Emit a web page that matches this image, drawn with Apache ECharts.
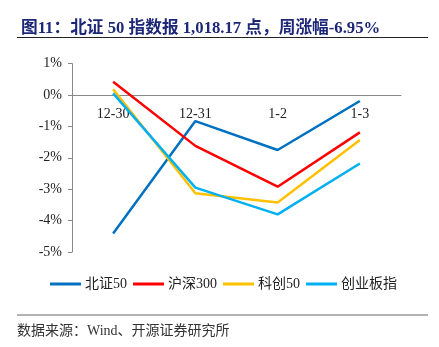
<!DOCTYPE html>
<html><head><meta charset="utf-8">
<script src="https://cdn.jsdelivr.net/npm/echarts@6/dist/echarts.min.js"></script>
<style>html,body{margin:0;padding:0;background:#fff}#c{width:439px;height:347px}</style>
</head><body><div id="c"></div>
<script>
const categories = ['12-30', '12-31', '1-2', '1-3'];
const seriesNames = ['北证50', '沪深300', '科创50', '创业板指'];
const bz50 = [-4.41, -0.83, -1.75, -0.19];
const hs300 = [0.42, -1.62, -2.92, -1.19];
const kc50 = [0.18, -3.13, -3.42, -1.43];
const cybz = [0.05, -2.95, -3.80, -2.18];
const yTicks = [-5, -4, -3, -2, -1, 0, 1];
const colors = ['#0070C0', '#FF0000', '#FFC000', '#00B0F0'];

const serif = '"Times New Roman", "Liberation Serif", "Noto Sans CJK SC", serif';
const chart = echarts.init(document.getElementById('c'));
const values = [bz50, hs300, kc50, cybz];
chart.setOption({
  animation: false,
  title: {
    text: '图11：北证 50 指数报 1,018.17 点，周涨幅-6.95%',
    left: 16, top: 15,
    textStyle: { fontFamily: serif, fontSize: 16.7, fontWeight: 'bold', color: '#1c2778' }
  },
  graphic: [
    { type: 'line', shape: { x1: 17, y1: 37.5, x2: 428, y2: 37.5 }, style: { stroke: '#222', lineWidth: 1 } },
    { type: 'line', shape: { x1: 17, y1: 315, x2: 428, y2: 315 }, style: { stroke: '#999', lineWidth: 1.5 } },
    { type: 'text', left: 17, top: 324, style: { text: '数据来源：Wind、开源证券研究所', font: '14px ' + serif, fill: '#333' } }
  ],
  color: colors,
  legend: {
    bottom: 51, left: 45,
    icon: 'rect', itemWidth: 31, itemHeight: 3, itemGap: 6,
    textStyle: { fontFamily: serif, fontSize: 14, color: '#222', padding: [0, 0, 0, -1] },
    data: seriesNames
  },
  grid: { left: 72, right: 38, top: 63.6, bottom: 95 },
  xAxis: {
    type: 'category', data: categories, boundaryGap: true,
    offset: -157,
    axisLine: { onZero: false, lineStyle: { color: '#888', width: 1 } },
    axisTick: { inside: true, length: 4, lineStyle: { color: '#888' } },
    axisLabel: { fontFamily: serif, fontSize: 14, color: '#222', margin: 12 }
  },
  yAxis: {
    type: 'value', min: yTicks[0], max: yTicks[yTicks.length - 1], interval: 1,
    axisLine: { show: true, lineStyle: { color: '#888', width: 1 } },
    axisTick: { show: true, length: 4, lineStyle: { color: '#888' } },
    splitLine: { show: false },
    axisLabel: { fontFamily: serif, fontSize: 14, color: '#222', margin: 10, formatter: v => v + '%' }
  },
  series: seriesNames.map((n, i) => ({
    name: n, type: 'line', data: values[i], symbol: 'none',
    lineStyle: { width: 2.5, color: colors[i] }
  }))
});
</script></body></html>
